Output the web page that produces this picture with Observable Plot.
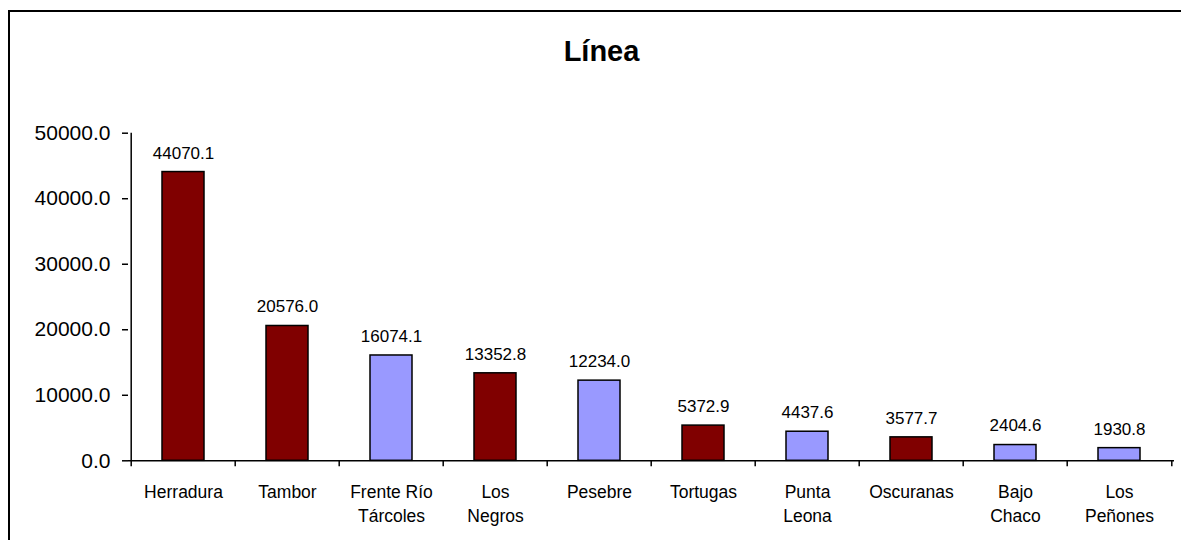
<!DOCTYPE html>
<html>
<head>
<meta charset="utf-8">
<script src="https://cdn.jsdelivr.net/npm/d3@7"></script>
<script src="https://cdn.jsdelivr.net/npm/@observablehq/plot@0.6"></script>
<style>
  html, body { margin: 0; padding: 0; background: #fff; overflow: hidden; }
  #wrap { position: relative; width: 1181px; height: 540px; overflow: hidden; }
  #frame { position: absolute; left: 8px; top: 10px; width: 1400px; height: 800px; border-left: 2px solid #000; border-top: 2px solid #000; box-sizing: border-box; }
  #title { position: absolute; left: 0; width: 1203px; top: 35px; text-align: center; font: bold 29px "Liberation Sans", Arial, sans-serif; color: #000; }
  #chart { position: absolute; left: 0; top: 0; }
</style>
</head>
<body>
<div id="wrap">
  <div id="frame"></div>
  <div id="chart"></div>
  <div id="title">Línea</div>
</div>
<script>
const categories = ["Herradura", "Tambor", "Frente Río\nTárcoles", "Los\nNegros", "Pesebre", "Tortugas", "Punta\nLeona", "Oscuranas", "Bajo\nChaco", "Los\nPeñones"];
const values = [44070.1, 20576.0, 16074.1, 13352.8, 12234.0, 5372.9, 4437.6, 3577.7, 2404.6, 1930.8];
const groups = ["oscuro", "oscuro", "claro", "oscuro", "claro", "oscuro", "claro", "oscuro", "claro", "claro"];
const yTicks = [0, 10000, 20000, 30000, 40000, 50000];

const data = categories.map((name, i) => ({name, value: values[i], group: groups[i]}));

const W = 1181, H = 540;
const mL = 128, mR = 7, mT = 132.7, mB = 79.7;
const step = (W - mL - mR) / categories.length;
const plotH = H - mT - mB;
const tickLen = 6 * 50000 / plotH;

const font = '"Liberation Sans", Arial, sans-serif';

const chart = Plot.plot({
  width: W,
  height: H,
  marginLeft: mL,
  marginRight: mR,
  marginTop: mT,
  marginBottom: mB,
  style: {fontFamily: font, background: "transparent", overflow: "visible"},
  x: {domain: categories, paddingInner: 0.6, paddingOuter: 0.3, axis: null},
  y: {domain: [0, 50000], axis: null},
  color: {type: "ordinal", domain: ["oscuro", "claro"], range: ["#800000", "#9999FF"]},
  marks: [
    Plot.barY(data, {x: "name", y: "value", fill: "group", stroke: "#000", strokeWidth: 1.5}),
    Plot.ruleY([0], {stroke: "#000", strokeWidth: 1.5}),
    Plot.ruleX([categories[0]], {dx: -step / 2, y1: 0, y2: 50000, stroke: "#000", strokeWidth: 1.5}),
    Plot.axisY({ticks: yTicks, tickFormat: d => d.toFixed(1), tickSize: 6, tickPadding: 12, fontSize: 21, stroke: "#000", strokeWidth: 1.5, color: "#000", anchor: "left", label: null}),
    Plot.ruleX(data, {x: "name", dx: -step / 2, y1: 0, y2: -tickLen, stroke: "#000", strokeWidth: 1.5, clip: false}),
    Plot.ruleX([categories[categories.length - 1]], {dx: step / 2, y1: 0, y2: -tickLen, stroke: "#000", strokeWidth: 1.5}),
    Plot.text(data, {x: "name", y: "value", text: d => d.value.toFixed(1), dy: -19, fontSize: 17, fill: "#000", lineAnchor: "middle"}),
    Plot.text(data, {x: "name", text: "name", frameAnchor: "bottom", dy: 21, lineAnchor: "top", lineHeight: 1.33, fontSize: 17.5, fill: "#000"})
  ]
});
document.getElementById("chart").appendChild(chart);
</script>
</body>
</html>
